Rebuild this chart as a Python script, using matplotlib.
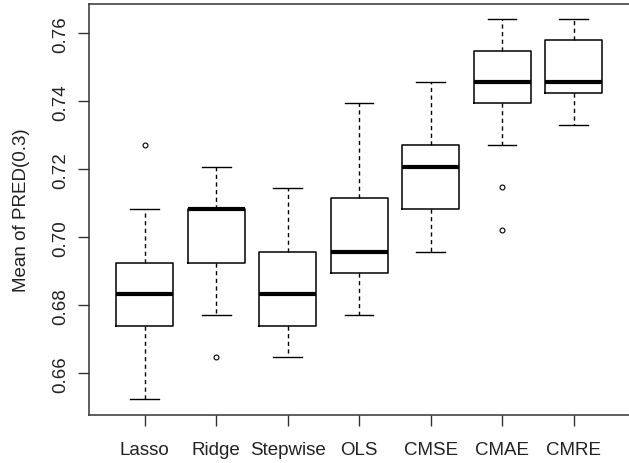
import matplotlib
matplotlib.use('Agg')
import matplotlib.pyplot as plt

plt.rcParams['font.family'] = ['Liberation Sans', 'DejaVu Sans']

methods = ['Lasso', 'Ridge', 'Stepwise', 'OLS', 'CMSE', 'CMAE', 'CMRE']
whisker_low = [0.6524, 0.6771, 0.6648, 0.6771, 0.6958, 0.7271, 0.7331]
box_low = [0.6740, 0.6925, 0.6740, 0.6896, 0.7084, 0.7394, 0.7424]
medians = [0.6833, 0.7083, 0.6833, 0.6957, 0.7208, 0.7456, 0.7456]
box_high = [0.6925, 0.7083, 0.6956, 0.7116, 0.7271, 0.7548, 0.7579]
whisker_high = [0.7083, 0.7208, 0.7146, 0.7394, 0.7456, 0.7642, 0.7642]
outliers = [[0.7272], [0.6649], [], [], [], [0.7148, 0.7021], []]

stats = []
for i, name in enumerate(methods):
    stats.append({'label': name, 'whislo': whisker_low[i], 'q1': box_low[i],
                  'med': medians[i], 'q3': box_high[i],
                  'whishi': whisker_high[i], 'fliers': outliers[i]})

fig = plt.figure(figsize=(6.29, 4.64), dpi=100)
ax = fig.add_axes([0.1415, 0.104, 0.859, 0.885])

ax.bxp(stats, widths=0.8, capwidths=0.4, patch_artist=False,
       boxprops=dict(color='black', linewidth=1.1),
       medianprops=dict(color='black', linewidth=3),
       whiskerprops=dict(color='black', linewidth=1.0, linestyle=(0, (3, 2.5))),
       capprops=dict(color='black', linewidth=1.0),
       flierprops=dict(marker='o', markersize=3.5, markerfacecolor='none',
                       markeredgecolor='black', markeredgewidth=0.8))

ax.set_xlim(0.22, 7.78)
ax.set_ylim(0.6478, 0.7686)
ax.set_yticks([0.66, 0.68, 0.70, 0.72, 0.74, 0.76])
ax.set_yticklabels(['0.66', '0.68', '0.70', '0.72', '0.74', '0.76'],
                   rotation=90, va='center')
ax.tick_params(axis='both', length=8, width=1, colors='#333333',
               labelcolor='#222222', labelsize=13.5)
ax.tick_params(axis='y', pad=6)
ax.tick_params(axis='x', pad=11)
ax.set_ylabel('Mean of PRED(0.3)', fontsize=13.5, color='#222222', labelpad=16)

ax.spines['right'].set_visible(False)
for s in ax.spines.values():
    s.set_color('#333333')
    s.set_linewidth(1.1)

fig.savefig('out.png', dpi=100)
